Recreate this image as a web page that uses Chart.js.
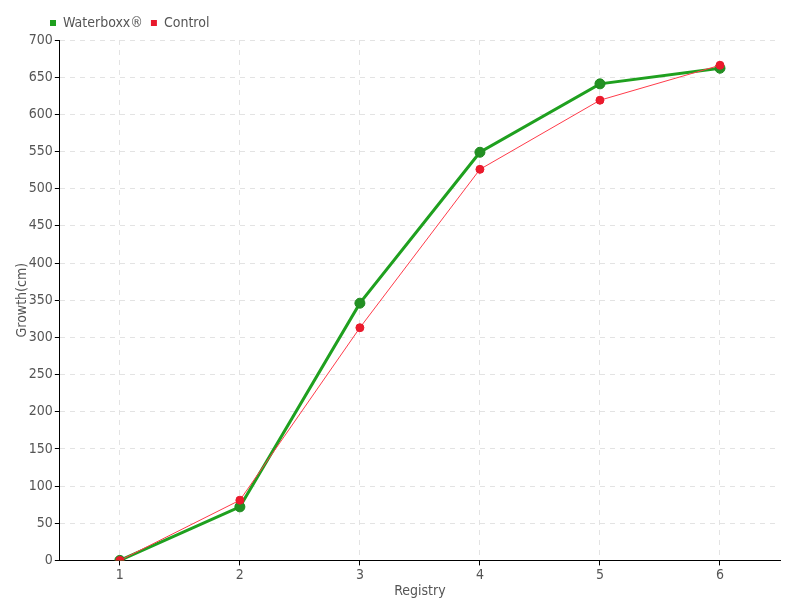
<!DOCTYPE html>
<html>
<head>
<meta charset="utf-8">
<script src="https://cdn.jsdelivr.net/npm/chart.js@4"></script>
<style>
  html, body { margin: 0; padding: 0; background: #fff; }
  #wrap { width: 800px; height: 600px; }
</style>
</head>
<body>
<div id="wrap"><canvas id="growthChart"></canvas></div>
<script>
// registry numbers on the x axis
var registries = ["1", "2", "3", "4", "5", "6"];

// growth in cm
var waterboxxGrowth = [0, 72, 346, 549, 641, 662];
var controlGrowth = [0, 81, 313, 526, 619, 666];

Chart.defaults.font.family = "'Liberation Sans Narrow', 'DejaVu Sans Condensed', sans-serif";
Chart.defaults.font.size = 13;
Chart.defaults.color = "#555";

// push the legend a bit to the right, like the original
const legendShift = {
    id: "legendShift",
    afterLayout(chart) {
        chart.legend.left += 28;
    }
};

var growthChart = new Chart(
    document.getElementById("growthChart"),
    {
        type: "line",
        data: {
            labels: registries,
            datasets: [
                {
                    label: "Waterboxx®",
                    data: waterboxxGrowth,
                    borderColor: "#1fa01f",
                    backgroundColor: "#1fa01f",
                    borderWidth: 3,
                    pointRadius: 5,
                    pointBackgroundColor: "#239023",
                    pointBorderColor: "#1f8a1f",
                    pointBorderWidth: 1,
                    tension: 0,
                    order: 1
                },
                {
                    label: "Control",
                    data: controlGrowth,
                    borderColor: "#ff3b4a",
                    backgroundColor: "#e8192c",
                    borderWidth: 1,
                    pointRadius: 4,
                    pointBackgroundColor: "#ec1a2c",
                    pointBorderColor: "#e8192c",
                    pointBorderWidth: 1,
                    tension: 0,
                    order: 0
                }
            ]
        },
        options: {
            responsive: true,
            maintainAspectRatio: false,
            animation: false,
            layout: {
                padding: { left: 14, right: 20, top: 8, bottom: 0 }
            },
            plugins: {
                legend: {
                    display: true,
                    position: "top",
                    align: "start",
                    labels: {
                        boxWidth: 6,
                        boxHeight: 6,
                        padding: 8,
                        color: "#555",
                        font: { size: 14 },
                        sort: (a, b) => a.datasetIndex - b.datasetIndex,
                        generateLabels(chart) {
                            let items = Chart.defaults.plugins.legend.labels.generateLabels(chart);
                            items.forEach(item => {
                                item.lineWidth = 0;
                                item.fillStyle = item.datasetIndex === 0 ? "#1fa01f" : "#e8192c";
                            });
                            return items;
                        }
                    }
                },
                tooltip: { enabled: false }
            },
            scales: {
                x: {
                    offset: true,
                    grid: {
                        offset: false,
                        color: "#e3e3e3",
                        tickColor: "#000",
                        tickLength: 5,
                        drawOnChartArea: true
                    },
                    border: { color: "#000", width: 1, dash: [5, 5] },
                    ticks: { color: "#555", padding: 2, font: { size: 14 } },
                    title: {
                        display: true,
                        text: "Registry",
                        color: "#555",
                        padding: { top: -3, bottom: 0 },
                        font: { size: 14 }
                    }
                },
                y: {
                    min: 0,
                    max: 700,
                    ticks: { stepSize: 50, color: "#555", padding: 2, font: { size: 14 } },
                    grid: {
                        color: "#e3e3e3",
                        tickColor: "#000",
                        tickLength: 5
                    },
                    border: { color: "#000", width: 1, dash: [5, 5] },
                    title: {
                        display: true,
                        text: "Growth(cm)",
                        color: "#555",
                        padding: { top: 0, bottom: -4 },
                        font: { size: 14 }
                    }
                }
            }
        },
        plugins: [legendShift]
    }
);
</script>
</body>
</html>
